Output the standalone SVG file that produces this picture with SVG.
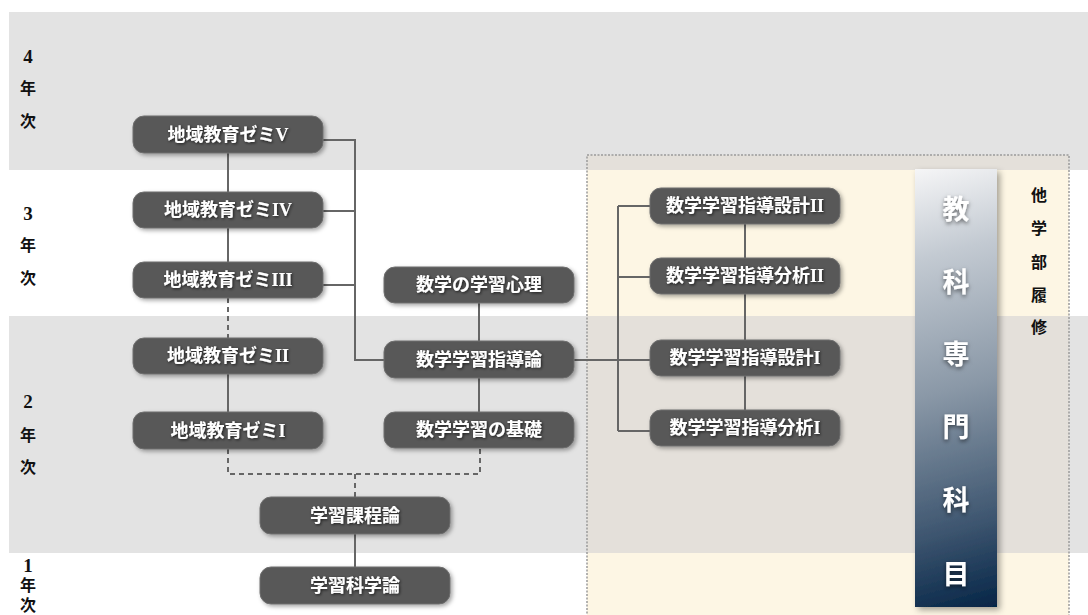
<svg xmlns="http://www.w3.org/2000/svg" width="1088" height="615" viewBox="0 0 1088 615">
<defs>
<style>
.node rect{fill:#595959;stroke:#6e6e6e;stroke-width:1;filter:url(#nshadow)}
.node text{fill:#fff;font-family:"Liberation Serif","Noto Sans CJK JP",serif;font-weight:bold;font-size:18px;text-anchor:middle;dominant-baseline:central;filter:url(#tshadow)}
.yr{fill:#111;font-family:"Liberation Serif","Noto Sans CJK JP",serif;font-weight:bold;font-size:16px;text-anchor:middle;dominant-baseline:central}
.dg{font-size:19px}
.ln{fill:none;stroke:#666;stroke-width:2}
.dash{fill:none;stroke:#666;stroke-width:2;stroke-dasharray:5 4}
.ban{fill:#fff;font-family:"Noto Sans CJK JP",sans-serif;font-weight:bold;font-size:27px;text-anchor:middle;dominant-baseline:central;filter:url(#bshadow)}
</style>
<filter id="nshadow" x="-10%" y="-30%" width="130%" height="170%"><feDropShadow dx="2" dy="2" stdDeviation="2" flood-color="#000" flood-opacity="0.35"/></filter>
<filter id="tshadow" x="-10%" y="-30%" width="130%" height="170%"><feDropShadow dx="1" dy="1" stdDeviation="1.5" flood-color="#000" flood-opacity="0.7"/></filter>
<filter id="bshadow" x="-30%" y="-30%" width="160%" height="160%"><feDropShadow dx="0" dy="2" stdDeviation="2" flood-color="#000" flood-opacity="0.55"/></filter>
<filter id="pshadow" x="-20%" y="-5%" width="150%" height="110%"><feDropShadow dx="3" dy="3" stdDeviation="3" flood-color="#000" flood-opacity="0.35"/></filter>
<linearGradient id="bg" x1="890" y1="175" x2="1010" y2="605" gradientUnits="userSpaceOnUse">
<stop offset="0" stop-color="#f6f6f7"/>
<stop offset="0.2" stop-color="#c3cad2"/>
<stop offset="0.5" stop-color="#8a98a7"/>
<stop offset="0.8" stop-color="#3e5670"/>
<stop offset="1" stop-color="#042446"/>
</linearGradient>
</defs>
<g id="bands">
<rect x="9" y="12" width="1079" height="158" fill="#e3e3e3"/>
<rect x="9" y="316" width="1079" height="237" fill="#e3e3e3"/>
<rect x="587" y="155" width="482" height="15" fill="#e4e0da"/>
<rect x="587" y="170" width="482" height="146" fill="#fdf6e4"/>
<rect x="587" y="316" width="482" height="237" fill="#e4e0da"/>
<rect x="587" y="553" width="482" height="62" fill="#fdf6e4"/>
<rect x="587" y="155" width="482" height="470" fill="none" stroke="#9a9a9a" stroke-width="1.5" stroke-dasharray="2 1.5"/>
</g>
<g id="years">
<text class="yr dg" x="28" y="56">4</text><text class="yr" x="28" y="88">年</text><text class="yr" x="28" y="121">次</text>
<text class="yr dg" x="28" y="213">3</text><text class="yr" x="28" y="245">年</text><text class="yr" x="28" y="278">次</text>
<text class="yr dg" x="28" y="401">2</text><text class="yr" x="28" y="435">年</text><text class="yr" x="28" y="467">次</text>
<text class="yr dg" x="28" y="565">1</text><text class="yr" x="28" y="585">年</text><text class="yr" x="28" y="605">次</text>
</g>
<g id="connectors">
<path class="ln" d="M228 153V192M228 228V262M228 374V412"/>
<path class="dash" d="M228 298V338"/>
<path class="dash" d="M228 449V474H480V448M355 474V497"/>
<path class="ln" d="M355 534V567"/>
<path class="ln" d="M323 140H355V360H384M323 211H355M323 285H355"/>
<path class="ln" d="M479 303V341M479 378V412"/>
<path class="ln" d="M574 360H650M618 206V431M618 206H650M618 277H650M618 431H650"/>
<path class="ln" d="M745 224V258M745 294V340M745 376V410"/>
</g>
<g id="n-zemi5" class="node"><rect x="133" y="116" width="190" height="37" rx="11"/><text x="228" y="134.5">地域教育ゼミV</text></g>
<g id="n-zemi4" class="node"><rect x="133" y="192" width="190" height="36" rx="11"/><text x="228" y="210">地域教育ゼミIV</text></g>
<g id="n-zemi3" class="node"><rect x="133" y="262" width="190" height="36" rx="11"/><text x="228" y="280">地域教育ゼミIII</text></g>
<g id="n-zemi2" class="node"><rect x="133" y="338" width="190" height="36" rx="11"/><text x="228" y="356">地域教育ゼミII</text></g>
<g id="n-zemi1" class="node"><rect x="133" y="412" width="190" height="37" rx="11"/><text x="228" y="430.5">地域教育ゼミI</text></g>
<g id="n-katei" class="node"><rect x="260" y="497" width="190" height="37" rx="11"/><text x="355" y="515.5">学習課程論</text></g>
<g id="n-kagaku" class="node"><rect x="260" y="567" width="190" height="37" rx="11"/><text x="355" y="585.5">学習科学論</text></g>
<g id="n-shinri" class="node"><rect x="384" y="267" width="190" height="36" rx="11"/><text x="479" y="285">数学の学習心理</text></g>
<g id="n-shidou" class="node"><rect x="384" y="341" width="190" height="37" rx="11"/><text x="479" y="359.5">数学学習指導論</text></g>
<g id="n-kiso" class="node"><rect x="384" y="412" width="190" height="36" rx="11"/><text x="479" y="430">数学学習の基礎</text></g>
<g id="n-sekkei2" class="node"><rect x="650" y="188" width="190" height="36" rx="11"/><text x="745" y="206">数学学習指導設計II</text></g>
<g id="n-bunseki2" class="node"><rect x="650" y="258" width="190" height="36" rx="11"/><text x="745" y="276">数学学習指導分析II</text></g>
<g id="n-sekkei1" class="node"><rect x="650" y="340" width="190" height="36" rx="11"/><text x="745" y="358">数学学習指導設計I</text></g>
<g id="n-bunseki1" class="node"><rect x="650" y="410" width="190" height="36" rx="11"/><text x="745" y="428">数学学習指導分析I</text></g>
<g id="banner">
<rect x="915" y="169" width="82" height="438" fill="url(#bg)" filter="url(#pshadow)"/>
<text class="ban" x="956" y="207">教</text>
<text class="ban" x="956" y="280">科</text>
<text class="ban" x="956" y="352">専</text>
<text class="ban" x="956" y="425">門</text>
<text class="ban" x="956" y="498">科</text>
<text class="ban" x="956" y="572">目</text>
</g>
<g id="other">
<text class="yr" x="1039" y="195">他</text>
<text class="yr" x="1039" y="228">学</text>
<text class="yr" x="1039" y="262">部</text>
<text class="yr" x="1039" y="295">履</text>
<text class="yr" x="1039" y="327">修</text>
</g>
</svg>
